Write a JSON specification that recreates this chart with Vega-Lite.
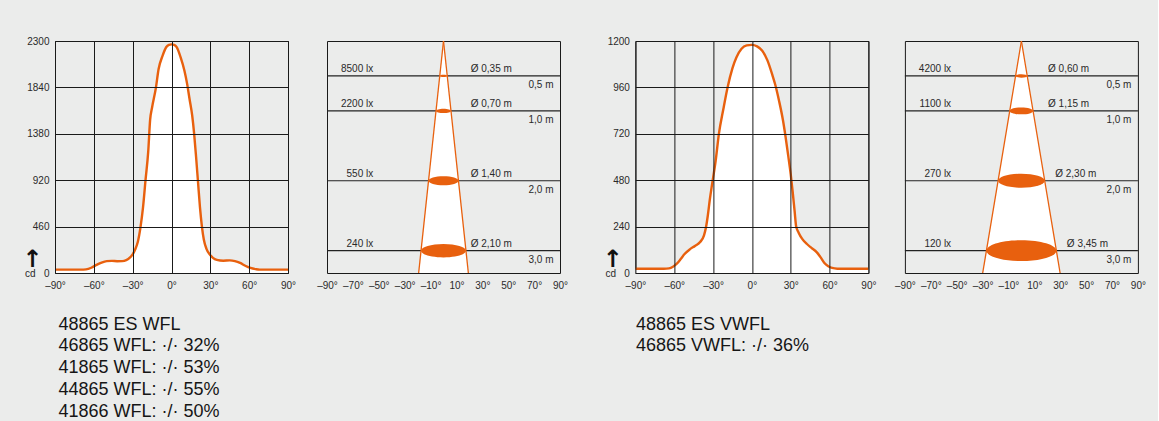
{
  "$schema": "https://vega.github.io/schema/vega-lite/v6.json",
  "background": "#ebeceb",
  "padding": {"left": 21, "top": 35, "right": 12, "bottom": 0},
  "config": {
    "view": {"stroke": "#1a1a1a", "strokeWidth": 1},
    "axis": {"labelFont": "Liberation Sans", "labelFontSize": 10, "labelColor": "#2a2a2a", "ticks": false, "domain": false, "gridColor": "#1a1a1a", "gridOpacity": 1, "gridWidth": 1, "labelFlush": false, "labelOverlap": false},
    "text": {"font": "Liberation Sans", "fontSize": 10, "color": "#2a2a2a"}
  },
  "datasets": {
    "wfl": [
      {"angle": -90, "cd": 33}, {"angle": -70, "cd": 33}, {"angle": -66, "cd": 36}, {"angle": -62, "cd": 52},
      {"angle": -58, "cd": 80}, {"angle": -54, "cd": 104}, {"angle": -50, "cd": 118}, {"angle": -46, "cd": 120},
      {"angle": -42, "cd": 117}, {"angle": -38, "cd": 118}, {"angle": -35, "cd": 128}, {"angle": -32, "cd": 155},
      {"angle": -30, "cd": 185}, {"angle": -28, "cd": 235}, {"angle": -26, "cd": 310}, {"angle": -24, "cd": 450},
      {"angle": -22, "cd": 650}, {"angle": -20, "cd": 930}, {"angle": -18, "cd": 1200}, {"angle": -16.5, "cd": 1520},
      {"angle": -15, "cd": 1640}, {"angle": -12, "cd": 1840}, {"angle": -10, "cd": 2020}, {"angle": -7, "cd": 2150},
      {"angle": -4, "cd": 2240}, {"angle": -2, "cd": 2262}, {"angle": 0, "cd": 2267}, {"angle": 2, "cd": 2262},
      {"angle": 4, "cd": 2240}, {"angle": 7, "cd": 2140}, {"angle": 10, "cd": 2005}, {"angle": 12, "cd": 1880},
      {"angle": 14, "cd": 1720}, {"angle": 16, "cd": 1560}, {"angle": 17.5, "cd": 1380}, {"angle": 19, "cd": 1150},
      {"angle": 20.5, "cd": 900}, {"angle": 22, "cd": 650}, {"angle": 23.5, "cd": 460}, {"angle": 25, "cd": 330},
      {"angle": 27, "cd": 240}, {"angle": 29.5, "cd": 185}, {"angle": 32, "cd": 150}, {"angle": 35, "cd": 130},
      {"angle": 40, "cd": 122}, {"angle": 45, "cd": 125}, {"angle": 49, "cd": 118}, {"angle": 53, "cd": 100},
      {"angle": 57, "cd": 72}, {"angle": 61, "cd": 50}, {"angle": 65, "cd": 38}, {"angle": 68, "cd": 33},
      {"angle": 90, "cd": 33}
    ],
    "vwfl": [
      {"angle": -90, "cd": 22}, {"angle": -68, "cd": 22}, {"angle": -64, "cd": 24}, {"angle": -61, "cd": 32},
      {"angle": -58, "cd": 48}, {"angle": -55, "cd": 72}, {"angle": -52, "cd": 98}, {"angle": -48, "cd": 122},
      {"angle": -44, "cd": 140}, {"angle": -40, "cd": 160}, {"angle": -37, "cd": 195}, {"angle": -35.5, "cd": 235},
      {"angle": -34, "cd": 300}, {"angle": -32.5, "cd": 380}, {"angle": -30.5, "cd": 470}, {"angle": -28, "cd": 580},
      {"angle": -25.5, "cd": 720}, {"angle": -22, "cd": 850}, {"angle": -18.8, "cd": 960}, {"angle": -15, "cd": 1060},
      {"angle": -12, "cd": 1115}, {"angle": -8, "cd": 1160}, {"angle": -4, "cd": 1177}, {"angle": 0, "cd": 1180},
      {"angle": 4, "cd": 1172}, {"angle": 8, "cd": 1150}, {"angle": 12, "cd": 1100}, {"angle": 16, "cd": 1020},
      {"angle": 18, "cd": 975}, {"angle": 21, "cd": 890}, {"angle": 24, "cd": 790}, {"angle": 26, "cd": 705},
      {"angle": 28, "cd": 610}, {"angle": 30, "cd": 510}, {"angle": 31.5, "cd": 420}, {"angle": 33, "cd": 320},
      {"angle": 34.2, "cd": 240}, {"angle": 36, "cd": 210}, {"angle": 39, "cd": 175}, {"angle": 42.5, "cd": 150},
      {"angle": 46, "cd": 130}, {"angle": 50, "cd": 108}, {"angle": 53, "cd": 82}, {"angle": 56, "cd": 52},
      {"angle": 59, "cd": 35}, {"angle": 62, "cd": 26}, {"angle": 66, "cd": 22}, {"angle": 90, "cd": 22}
    ],
    "rings_wfl": [
      {"d": 0.5, "half": 2.89, "lux": "8500 lx", "dia": "Ø 0,35 m", "dist": "0,5 m"},
      {"d": 1.0, "half": 5.78, "lux": "2200 lx", "dia": "Ø 0,70 m", "dist": "1,0 m"},
      {"d": 2.0, "half": 11.57, "lux": "550 lx", "dia": "Ø 1,40 m", "dist": "2,0 m"},
      {"d": 3.0, "half": 17.35, "lux": "240 lx", "dia": "Ø 2,10 m", "dist": "3,0 m"}
    ],
    "cone_wfl": [
      {"d": 0, "left": 0, "right": 0},
      {"d": 3.32, "left": -19.2, "right": 19.2}
    ],
    "rings_vwfl": [
      {"d": 0.5, "half": 4.5, "lux": "4200 lx", "dia": "Ø 0,60 m", "dist": "0,5 m"},
      {"d": 1.0, "half": 9.0, "lux": "1100 lx", "dia": "Ø 1,15 m", "dist": "1,0 m"},
      {"d": 2.0, "half": 18.0, "lux": "270 lx", "dia": "Ø 2,30 m", "dist": "2,0 m"},
      {"d": 3.0, "half": 27.0, "lux": "120 lx", "dia": "Ø 3,45 m", "dist": "3,0 m"}
    ],
    "cone_vwfl": [
      {"d": 0, "left": 0, "right": 0},
      {"d": 3.32, "left": -29.9, "right": 29.9}
    ]
  },
  "spacing": 32.4,
  "hconcat": [
    {
      "spacing": 19,
      "hconcat": [
        {
          "width": 233, "height": 232,
          "data": {"name": "wfl"},
          "encoding": {
            "x": {"field": "angle", "type": "quantitative", "scale": {"domain": [-90, 90], "nice": false},
              "axis": {"values": [-90, -60, -30, 0, 30, 60, 90], "grid": true, "zindex": 1, "labelPadding": 7.5, "labelOverlap": false, "labelFlush": false,
                "labelExpr": "(datum.value < 0 ? '–' + abs(datum.value) : datum.value) + '°'",
                "title": ["48865 ES WFL", "46865 WFL: ·/· 32%", "41865 WFL: ·/· 53%", "44865 WFL: ·/· 55%", "41866 WFL: ·/· 50%"],
                "titleFont": "Liberation Sans", "titleFontSize": 18, "titleFontWeight": "normal", "titleColor": "#161616",
                "titleAnchor": "start", "titleAlign": "left", "titleBaseline": "alphabetic", "titleX": 3, "titleY": 56, "titleLineHeight": 21.8}},
            "y": {"field": "cd", "type": "quantitative", "scale": {"domain": [0, 2300], "nice": false},
              "axis": {"values": [0, 460, 920, 1380, 1840, 2300], "grid": true, "zindex": 1, "labelPadding": 6,
                "labelExpr": "datum.value == 0 ? 'cd\u00a0\u00a0\u00a00' : '' + datum.value",
                "title": "↑", "titleFont": "DejaVu Sans", "titleFontSize": 24, "titleFontWeight": "bold", "titleColor": "#111",
                "titleAngle": 0, "titleAlign": "center", "titleBaseline": "alphabetic", "titleX": -23.3, "titleY": 225.5}}
          },
          "layer": [
            {"mark": {"type": "area", "fill": "white", "interpolate": "monotone"}},
            {"mark": {"type": "line", "stroke": "#e8600e", "strokeWidth": 2.4, "interpolate": "monotone"}}
          ]
        },
        {
          "width": 233, "height": 232,
          "layer": [
            {"data": {"name": "rings_wfl"}, "mark": {"type": "rule", "stroke": "#222", "strokeWidth": 1.2},
              "encoding": {"y": {"field": "d", "type": "quantitative", "scale": {"domain": [0, 3.32], "nice": false, "zero": false, "reverse": true}, "axis": null}}},
            {"data": {"name": "cone_wfl"}, "mark": {"type": "area", "fill": "white", "orient": "horizontal"},
              "encoding": {
                "y": {"field": "d", "type": "quantitative"},
                "x": {"field": "left", "type": "quantitative", "scale": {"domain": [-90, 90], "nice": false},
                  "axis": {"values": [-90, -70, -50, -30, -10, 10, 30, 50, 70, 90], "grid": false, "labelPadding": 7.5, "title": null, "labelOverlap": false, "labelFlush": false,
                    "labelExpr": "(datum.value < 0 ? '–' + abs(datum.value) : datum.value) + '°'"}},
                "x2": {"field": "right"}}},
            {"data": {"name": "cone_wfl"}, "mark": {"type": "line", "stroke": "#e8600e", "strokeWidth": 1.3},
              "encoding": {"x": {"field": "left", "type": "quantitative",
                  "axis": {"values": [-90, -70, -50, -30, -10, 10, 30, 50, 70, 90], "grid": false, "labelPadding": 7.5, "title": null, "labelOverlap": false, "labelFlush": false,
                    "labelExpr": "(datum.value < 0 ? '–' + abs(datum.value) : datum.value) + '°'"}},
                "y": {"field": "d", "type": "quantitative"}, "order": {"field": "d"}}},
            {"data": {"name": "cone_wfl"}, "mark": {"type": "line", "stroke": "#e8600e", "strokeWidth": 1.3},
              "encoding": {"x": {"field": "right", "type": "quantitative",
                  "axis": {"values": [-90, -70, -50, -30, -10, 10, 30, 50, 70, 90], "grid": false, "labelPadding": 7.5, "title": null, "labelOverlap": false, "labelFlush": false,
                    "labelExpr": "(datum.value < 0 ? '–' + abs(datum.value) : datum.value) + '°'"}},
                "y": {"field": "d", "type": "quantitative"}, "order": {"field": "d"}}},
            {"data": {"name": "rings_wfl"},
              "mark": {"type": "point", "shape": "M-1,0C-1,-0.166,-0.552,-0.3,0,-0.3C0.552,-0.3,1,-0.166,1,0C1,0.166,0.552,0.3,0,0.3C-0.552,0.3,-1,0.166,-1,0Z", "filled": true, "color": "#e8600e", "opacity": 1},
              "encoding": {"x": {"datum": 0,
                  "axis": {"values": [-90, -70, -50, -30, -10, 10, 30, 50, 70, 90], "grid": false, "labelPadding": 7.5, "title": null, "labelOverlap": false, "labelFlush": false,
                    "labelExpr": "(datum.value < 0 ? '–' + abs(datum.value) : datum.value) + '°'"}},
                "y": {"field": "d", "type": "quantitative"},
                "size": {"field": "half", "type": "quantitative", "scale": {"type": "pow", "exponent": 2, "domain": [0, 90], "range": [0, 54289]}, "legend": null}}},
            {"data": {"name": "rings_wfl"}, "mark": {"type": "text", "align": "right", "baseline": "alphabetic", "dy": -4},
              "encoding": {"x": {"datum": -54.3,
                  "axis": {"values": [-90, -70, -50, -30, -10, 10, 30, 50, 70, 90], "grid": false, "labelPadding": 7.5, "title": null, "labelOverlap": false, "labelFlush": false,
                    "labelExpr": "(datum.value < 0 ? '–' + abs(datum.value) : datum.value) + '°'"}},
                "y": {"field": "d", "type": "quantitative"}, "text": {"field": "lux"}}},
            {"data": {"name": "rings_wfl"}, "mark": {"type": "text", "align": "left", "baseline": "alphabetic", "dy": -4},
              "encoding": {"x": {"datum": 21,
                  "axis": {"values": [-90, -70, -50, -30, -10, 10, 30, 50, 70, 90], "grid": false, "labelPadding": 7.5, "title": null, "labelOverlap": false, "labelFlush": false,
                    "labelExpr": "(datum.value < 0 ? '–' + abs(datum.value) : datum.value) + '°'"}},
                "y": {"field": "d", "type": "quantitative"}, "text": {"field": "dia"}}},
            {"data": {"name": "rings_wfl"}, "mark": {"type": "text", "align": "right", "baseline": "alphabetic", "dy": 12, "dx": -6.5},
              "encoding": {"x": {"datum": 90,
                  "axis": {"values": [-90, -70, -50, -30, -10, 10, 30, 50, 70, 90], "grid": false, "labelPadding": 7.5, "title": null, "labelOverlap": false, "labelFlush": false,
                    "labelExpr": "(datum.value < 0 ? '–' + abs(datum.value) : datum.value) + '°'"}},
                "y": {"field": "d", "type": "quantitative"}, "text": {"field": "dist"}}}
          ]
        }
      ]
    },
    {
      "spacing": 16.5,
      "hconcat": [
        {
          "width": 233, "height": 232,
          "data": {"name": "vwfl"},
          "encoding": {
            "x": {"field": "angle", "type": "quantitative", "scale": {"domain": [-90, 90], "nice": false},
              "axis": {"values": [-90, -60, -30, 0, 30, 60, 90], "grid": true, "zindex": 1, "labelPadding": 7.5, "labelOverlap": false, "labelFlush": false,
                "labelExpr": "(datum.value < 0 ? '–' + abs(datum.value) : datum.value) + '°'",
                "title": ["48865 ES VWFL", "46865 VWFL: ·/· 36%"],
                "titleFont": "Liberation Sans", "titleFontSize": 18, "titleFontWeight": "normal", "titleColor": "#161616",
                "titleAnchor": "start", "titleAlign": "left", "titleBaseline": "alphabetic", "titleX": 0, "titleY": 56, "titleLineHeight": 21.8}},
            "y": {"field": "cd", "type": "quantitative", "scale": {"domain": [0, 1200], "nice": false},
              "axis": {"values": [0, 240, 480, 720, 960, 1200], "grid": true, "zindex": 1, "labelPadding": 6,
                "labelExpr": "datum.value == 0 ? 'cd\u00a0\u00a0\u00a00' : '' + datum.value",
                "title": "↑", "titleFont": "DejaVu Sans", "titleFontSize": 24, "titleFontWeight": "bold", "titleColor": "#111",
                "titleAngle": 0, "titleAlign": "center", "titleBaseline": "alphabetic", "titleX": -23.3, "titleY": 225.5}}
          },
          "layer": [
            {"mark": {"type": "area", "fill": "white", "interpolate": "monotone"}},
            {"mark": {"type": "line", "stroke": "#e8600e", "strokeWidth": 2.4, "interpolate": "monotone"}}
          ]
        },
        {
          "width": 233, "height": 232,
          "layer": [
            {"data": {"name": "rings_vwfl"}, "mark": {"type": "rule", "stroke": "#222", "strokeWidth": 1.2},
              "encoding": {"y": {"field": "d", "type": "quantitative", "scale": {"domain": [0, 3.32], "nice": false, "zero": false, "reverse": true}, "axis": null}}},
            {"data": {"name": "cone_vwfl"}, "mark": {"type": "area", "fill": "white", "orient": "horizontal"},
              "encoding": {
                "y": {"field": "d", "type": "quantitative"},
                "x": {"field": "left", "type": "quantitative", "scale": {"domain": [-90, 90], "nice": false},
                  "axis": {"values": [-90, -70, -50, -30, -10, 10, 30, 50, 70, 90], "grid": false, "labelPadding": 7.5, "title": null, "labelOverlap": false, "labelFlush": false,
                    "labelExpr": "(datum.value < 0 ? '–' + abs(datum.value) : datum.value) + '°'"}},
                "x2": {"field": "right"}}},
            {"data": {"name": "cone_vwfl"}, "mark": {"type": "line", "stroke": "#e8600e", "strokeWidth": 1.3},
              "encoding": {"x": {"field": "left", "type": "quantitative",
                  "axis": {"values": [-90, -70, -50, -30, -10, 10, 30, 50, 70, 90], "grid": false, "labelPadding": 7.5, "title": null, "labelOverlap": false, "labelFlush": false,
                    "labelExpr": "(datum.value < 0 ? '–' + abs(datum.value) : datum.value) + '°'"}},
                "y": {"field": "d", "type": "quantitative"}, "order": {"field": "d"}}},
            {"data": {"name": "cone_vwfl"}, "mark": {"type": "line", "stroke": "#e8600e", "strokeWidth": 1.3},
              "encoding": {"x": {"field": "right", "type": "quantitative",
                  "axis": {"values": [-90, -70, -50, -30, -10, 10, 30, 50, 70, 90], "grid": false, "labelPadding": 7.5, "title": null, "labelOverlap": false, "labelFlush": false,
                    "labelExpr": "(datum.value < 0 ? '–' + abs(datum.value) : datum.value) + '°'"}},
                "y": {"field": "d", "type": "quantitative"}, "order": {"field": "d"}}},
            {"data": {"name": "rings_vwfl"},
              "mark": {"type": "point", "shape": "M-1,0C-1,-0.166,-0.552,-0.3,0,-0.3C0.552,-0.3,1,-0.166,1,0C1,0.166,0.552,0.3,0,0.3C-0.552,0.3,-1,0.166,-1,0Z", "filled": true, "color": "#e8600e", "opacity": 1},
              "encoding": {"x": {"datum": 0,
                  "axis": {"values": [-90, -70, -50, -30, -10, 10, 30, 50, 70, 90], "grid": false, "labelPadding": 7.5, "title": null, "labelOverlap": false, "labelFlush": false,
                    "labelExpr": "(datum.value < 0 ? '–' + abs(datum.value) : datum.value) + '°'"}},
                "y": {"field": "d", "type": "quantitative"},
                "size": {"field": "half", "type": "quantitative", "scale": {"type": "pow", "exponent": 2, "domain": [0, 90], "range": [0, 54289]}, "legend": null}}},
            {"data": {"name": "rings_vwfl"}, "mark": {"type": "text", "align": "right", "baseline": "alphabetic", "dy": -4},
              "encoding": {"x": {"datum": -54.3,
                  "axis": {"values": [-90, -70, -50, -30, -10, 10, 30, 50, 70, 90], "grid": false, "labelPadding": 7.5, "title": null, "labelOverlap": false, "labelFlush": false,
                    "labelExpr": "(datum.value < 0 ? '–' + abs(datum.value) : datum.value) + '°'"}},
                "y": {"field": "d", "type": "quantitative"}, "text": {"field": "lux"}}},
            {"data": {"name": "rings_vwfl"}, "transform": [{"filter": "datum.d <= 1"}], "mark": {"type": "text", "align": "left", "baseline": "alphabetic", "dy": -4},
              "encoding": {"x": {"datum": 20.6,
                  "axis": {"values": [-90, -70, -50, -30, -10, 10, 30, 50, 70, 90], "grid": false, "labelPadding": 7.5, "title": null, "labelOverlap": false, "labelFlush": false,
                    "labelExpr": "(datum.value < 0 ? '–' + abs(datum.value) : datum.value) + '°'"}},
                "y": {"field": "d", "type": "quantitative"}, "text": {"field": "dia"}}},
            {"data": {"name": "rings_vwfl"}, "transform": [{"filter": "datum.d > 1"}], "mark": {"type": "text", "align": "left", "baseline": "alphabetic", "dy": -4, "dx": 10.5},
              "encoding": {"x": {"field": "half", "type": "quantitative",
                  "axis": {"values": [-90, -70, -50, -30, -10, 10, 30, 50, 70, 90], "grid": false, "labelPadding": 7.5, "title": null, "labelOverlap": false, "labelFlush": false,
                    "labelExpr": "(datum.value < 0 ? '–' + abs(datum.value) : datum.value) + '°'"}},
                "y": {"field": "d", "type": "quantitative"}, "text": {"field": "dia"}}},
            {"data": {"name": "rings_vwfl"}, "mark": {"type": "text", "align": "right", "baseline": "alphabetic", "dy": 12, "dx": -6.5},
              "encoding": {"x": {"datum": 90,
                  "axis": {"values": [-90, -70, -50, -30, -10, 10, 30, 50, 70, 90], "grid": false, "labelPadding": 7.5, "title": null, "labelOverlap": false, "labelFlush": false,
                    "labelExpr": "(datum.value < 0 ? '–' + abs(datum.value) : datum.value) + '°'"}},
                "y": {"field": "d", "type": "quantitative"}, "text": {"field": "dist"}}}
          ]
        }
      ]
    }
  ]
}
